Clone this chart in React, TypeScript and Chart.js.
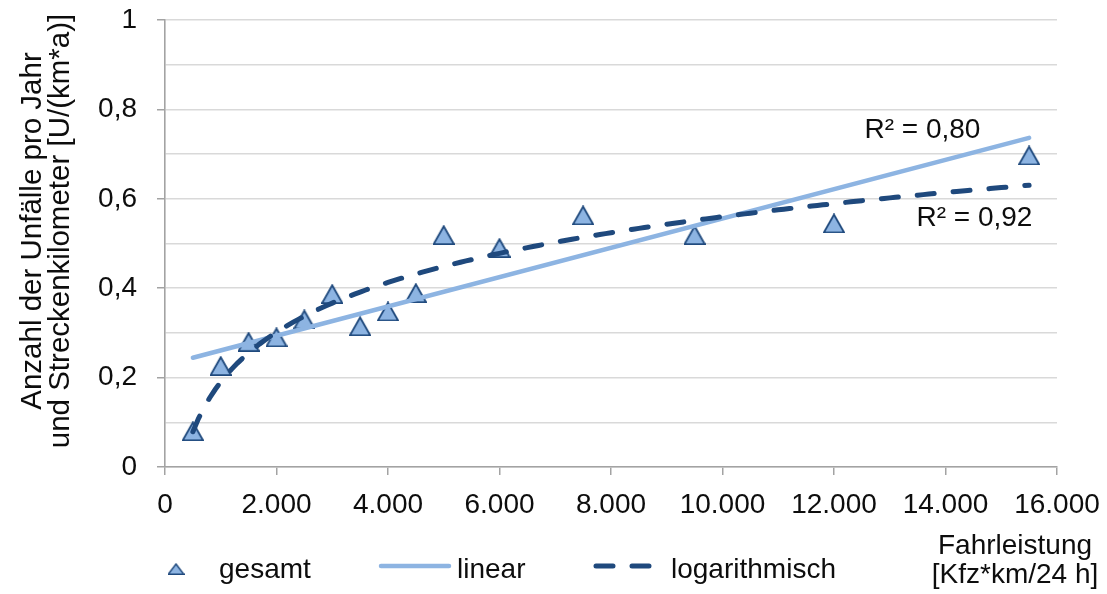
import React, { useEffect, useRef } from 'react';
import { Chart, registerables } from 'chart.js';

Chart.register(...registerables);

// Fahrleistung [Kfz*km/24 h] and accident rate per km and year
const fahrleistung = [500, 1000, 1500, 2000, 2500, 3000, 3500, 4000, 4500, 5000, 6000, 7500, 9500, 12000, 15500];
const unfallrate = [0.08, 0.226, 0.28, 0.29, 0.33, 0.387, 0.315, 0.348, 0.389, 0.519, 0.49, 0.563, 0.519, 0.545, 0.697];

const xTickValues = [0, 2000, 4000, 6000, 8000, 10000, 12000, 14000, 16000];
const yTickValues = [0, 0.2, 0.4, 0.6, 0.8, 1];

const seriesNames = ['gesamt', 'linear', 'logarithmisch'];
const r2Labels = ['R² = 0,80', 'R² = 0,92'];
const yTitleLines = ['Anzahl der Unfälle pro Jahr', 'und Streckenkilometer [U/(km*a)]'];
const xTitleLines = ['Fahrleistung', '[Kfz*km/24 h]'];

const FONT = '"Liberation Sans", Arial, sans-serif';
const TEXT = '#0d0d0d';
const AXIS = '#a3a3a3';
const GRID = '#d9d9d9';
const LIGHT = '#8db4e2';
const DARK = '#1f497d';
const DASH = [17, 19];

// least squares fit y = a * f(x) + b
function fit(xs: number[], ys: number[], f: (v: number) => number) {
  const n = xs.length;
  const u = xs.map(f);
  const mu = u.reduce((s, v) => s + v, 0) / n;
  const my = ys.reduce((s, v) => s + v, 0) / n;
  let sxy = 0;
  let sxx = 0;
  for (let i = 0; i < n; i++) {
    sxy += (u[i] - mu) * (ys[i] - my);
    sxx += (u[i] - mu) * (u[i] - mu);
  }
  const a = sxy / sxx;
  return { a, b: my - a * mu };
}

function formatThousands(v: number) {
  return String(Math.round(v)).replace(/\B(?=(\d{3})+(?!\d))/g, '.');
}

function makeTriangle(w: number, h: number, lw: number) {
  const c = document.createElement('canvas');
  c.width = w;
  c.height = h;
  const g = c.getContext('2d')!;
  g.beginPath();
  g.moveTo(w / 2, lw / 2 + 0.3);
  g.lineTo(w - lw / 2, h - lw / 2);
  g.lineTo(lw / 2, h - lw / 2);
  g.closePath();
  g.fillStyle = LIGHT;
  g.fill();
  g.lineWidth = lw;
  g.lineJoin = 'miter';
  g.strokeStyle = DARK;
  g.stroke();
  return c;
}

function makeDecorations(legendTriangle: HTMLCanvasElement) {
  return {
    id: 'decorations',
    afterDraw(chart: any) {
      const { ctx } = chart;
      const x = chart.scales.x;
      const y = chart.scales.y;
      ctx.save();
      ctx.fillStyle = TEXT;
      ctx.font = `28px ${FONT}`;

      // coefficient of determination labels next to the trend lines
      ctx.textAlign = 'center';
      ctx.textBaseline = 'middle';
      ctx.fillText(r2Labels[0], x.getPixelForValue(13586), y.getPixelForValue(0.754));
      ctx.fillText(r2Labels[1], x.getPixelForValue(14519), y.getPixelForValue(0.557));

      // x axis title, bottom right
      ctx.textBaseline = 'alphabetic';
      ctx.fillText(xTitleLines[0], 1015, 554);
      ctx.fillText(xTitleLines[1], 1015, 583);

      // y axis title, rotated
      ctx.font = `29.5px ${FONT}`;
      yTitleLines.forEach((line, i) => {
        ctx.save();
        ctx.translate(41 + i * 28, 231);
        ctx.rotate(-Math.PI / 2);
        ctx.fillText(line, 0, 0);
        ctx.restore();
      });

      // legend
      ctx.font = `28px ${FONT}`;
      ctx.textAlign = 'left';
      const ly = 566;
      ctx.drawImage(legendTriangle, 176 - legendTriangle.width / 2, 569 - legendTriangle.height / 2);
      ctx.fillText(seriesNames[0], 219, 578);

      ctx.lineCap = 'round';
      ctx.strokeStyle = LIGHT;
      ctx.lineWidth = 4.5;
      ctx.beginPath();
      ctx.moveTo(381, ly);
      ctx.lineTo(449, ly);
      ctx.stroke();
      ctx.fillText(seriesNames[1], 457, 578);

      ctx.strokeStyle = DARK;
      ctx.lineWidth = 5;
      ctx.setLineDash(DASH);
      ctx.beginPath();
      ctx.moveTo(596, ly);
      ctx.lineTo(650, ly);
      ctx.stroke();
      ctx.setLineDash([]);
      ctx.fillText(seriesNames[2], 671, 578);
      ctx.restore();
    },
  };
}

export default function App() {
  const ref = useRef<HTMLCanvasElement>(null);

  useEffect(() => {
    const canvas = ref.current;
    if (!canvas) return;

    const lin = fit(fahrleistung, unfallrate, (v) => v);
    const log = fit(fahrleistung, unfallrate, Math.log);
    const xMin = Math.min(...fahrleistung);
    const xMax = Math.max(...fahrleistung);

    const linearLine = [xMin, xMax].map((v) => ({ x: v, y: lin.a * v + lin.b }));
    const logLine: { x: number; y: number }[] = [];
    for (let v = xMin; v <= xMax; v += 100) logLine.push({ x: v, y: log.a * Math.log(v) + log.b });

    const marker = makeTriangle(22, 20, 1.8);
    const legendMarker = makeTriangle(17, 12, 1.4);

    const chart = new Chart(canvas, {
      type: 'scatter',
      data: {
        datasets: [
          {
            label: seriesNames[0],
            data: fahrleistung.map((v, i) => ({ x: v, y: unfallrate[i] })),
            pointStyle: marker as any,
            pointRadius: 10,
            showLine: false,
            order: 3,
          },
          {
            label: seriesNames[1],
            data: linearLine,
            showLine: true,
            borderColor: LIGHT,
            borderWidth: 4.5,
            borderCapStyle: 'round',
            pointRadius: 0,
            order: 2,
          },
          {
            label: seriesNames[2],
            data: logLine,
            showLine: true,
            borderColor: DARK,
            borderWidth: 5,
            borderDash: DASH,
            borderCapStyle: 'round',
            pointRadius: 0,
            order: 1,
          },
        ],
      },
      options: {
        responsive: false,
        animation: false,
        layout: { padding: { left: 0, right: 50, top: 20, bottom: 0 } },
        plugins: {
          legend: { display: false },
          tooltip: { enabled: false },
        },
        scales: {
          x: {
            type: 'linear',
            min: xTickValues[0],
            max: xTickValues[xTickValues.length - 1],
            afterBuildTicks: (scale: any) => {
              scale.ticks = xTickValues.map((value) => ({ value }));
            },
            afterFit: (scale: any) => {
              scale.height = 127;
              scale.paddingLeft = 0;
              scale.paddingRight = 0;
            },
            ticks: {
              color: TEXT,
              font: { family: FONT, size: 28 },
              padding: 13,
              maxRotation: 0,
              autoSkip: false,
              callback: (v: any) => formatThousands(Number(v)),
            },
            grid: {
              drawOnChartArea: false,
              drawTicks: true,
              tickLength: 8,
              color: AXIS,
              lineWidth: 1.5,
            },
            border: { display: true, color: AXIS, width: 1.6 },
          },
          y: {
            type: 'linear',
            min: 0,
            max: 1,
            afterBuildTicks: (scale: any) => {
              const t = [];
              for (let i = 0; i <= 10; i++) t.push({ value: i / 10 });
              scale.ticks = t;
            },
            afterFit: (scale: any) => {
              scale.width = 165;
              scale.paddingTop = 0;
              scale.paddingBottom = 0;
            },
            ticks: {
              color: TEXT,
              font: { family: FONT, size: 28 },
              padding: 20,
              autoSkip: false,
              callback: (v: any) => {
                const n = Math.round(Number(v) * 10);
                if (!yTickValues.some((t) => Math.round(t * 10) === n)) return '';
                return String(n / 10).replace('.', ',');
              },
            },
            grid: {
              color: GRID,
              lineWidth: 1.5,
              drawTicks: true,
              tickLength: 8,
              tickWidth: 1.5,
              tickColor: (c: any) => {
                const n = Math.round((c.tick ? c.tick.value : 0) * 10);
                return yTickValues.some((t) => Math.round(t * 10) === n) ? AXIS : 'rgba(0,0,0,0)';
              },
            },
            border: { display: true, color: AXIS, width: 1.6 },
          },
        },
      },
      plugins: [makeDecorations(legendMarker)],
    });

    return () => chart.destroy();
  }, []);

  return (
    <div style={{ position: 'absolute', left: 0, top: 0, width: 1107, height: 594, background: '#fff' }}>
      <canvas ref={ref} width={1107} height={594} style={{ display: 'block', width: 1107, height: 594 }} />
    </div>
  );
}
